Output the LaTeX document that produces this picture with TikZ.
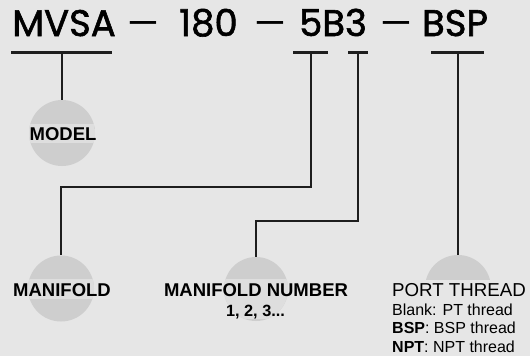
\documentclass[tikz,border=0pt]{standalone}
\usepackage{fontspec}
\setmainfont{Liberation Sans}
\newfontfamily\titlefont{Poppins}[FakeBold=1.6]
\newfontfamily\dashfont{Poppins}
\definecolor{bgc}{HTML}{E6E6E6}
\definecolor{circc}{HTML}{CECECE}
\definecolor{bandc}{HTML}{DEDEDE}
\definecolor{inkc}{HTML}{1E1E1E}
\tikzset{
  ttl/.style={anchor=base, inner sep=0pt, font=\titlefont\fontsize{37}{40}\selectfont, text=black},
  dsh/.style={anchor=base, inner sep=0pt, font=\dashfont\fontsize{37}{40}\selectfont, text=black},
  bar/.style={draw=inkc, line width=3pt},
  conn/.style={draw=inkc, line width=1.8pt},
  ball/.style={circle, fill=circc, minimum size=66pt, inner sep=0pt},
  lbl/.style={anchor=base, inner sep=0pt, font=\bfseries\fontsize{18.5}{20}\selectfont, text=black},
  lblr/.style={anchor=base west, inner sep=0pt, font=\fontsize{18.7}{20}\selectfont, text=black},
  small/.style={anchor=base west, inner sep=0pt, font=\fontsize{16}{18}\selectfont, text=black},
}
\begin{document}
\begin{tikzpicture}[x=1pt,y=-1pt]
\useasboundingbox (0,0) rectangle (530,356);
\fill[bgc] (0,0) rectangle (530,356);
% title
\node[ttl] (tmvsa) at (64,36) {MVSA};
\node[dsh] (td1) at (143,36) {\scalebox{1.35}[1]{–}};
\node[ttl] (t180) at (208.5,36) {180};
\node[dsh] (td2) at (270.5,36) {\scalebox{1.35}[1]{–}};
\node[ttl] (t5b3) at (333,36) {5B3};
\node[dsh] (td3) at (396,36) {\scalebox{1.35}[1]{–}};
\node[ttl] (tbsp) at (455,36) {BSP};
% bars
\coordinate (bmL) at (11,52); \coordinate (bmR) at (112,52); \coordinate (bm) at (62,52);
\coordinate (b5L) at (293,52); \coordinate (b5R) at (328,52); \coordinate (b5) at (311,52);
\coordinate (b3L) at (348,52); \coordinate (b3R) at (368,52); \coordinate (b3) at (358,52);
\coordinate (bpL) at (431,52); \coordinate (bpR) at (484,52); \coordinate (bp) at (458,52);
\draw[bar] (bmL) -- (bmR);
\draw[bar] (b5L) -- (b5R);
\draw[bar] (b3L) -- (b3R);
\draw[bar] (bpL) -- (bpR);
% balls
\node[ball, path picture={\fill[bandc] ([yshift=-10pt]path picture bounding box.west) rectangle ([yshift=9pt]path picture bounding box.east);}] (cmodel) at (62,133) {};
\node[ball, path picture={\fill[bandc] ([yshift=-10pt]path picture bounding box.west) rectangle ([yshift=10pt]path picture bounding box.east);}] (cman) at (61,288.5) {};
\node[ball, minimum size=64pt, path picture={\fill[bandc] ([yshift=-30pt]path picture bounding box.west) rectangle ([yshift=10pt]path picture bounding box.east);}] (cnum) at (256,289) {};
\begin{scope}
\clip (420,250) rectangle (500,279);
\node[ball] (cport) at (458,288) {};
\end{scope}
% connectors
\draw[conn] (bm) -- (cmodel.north);
\draw[conn] (b5) -- ++(0,135) -| (cman.north);
\draw[conn] (b3) -- ++(0,169) -| (cnum.north);
\draw[conn] (bp) -- (cport.north);
% labels
\node[lbl] (lmodel) at (63,140) {MODEL};
\node[lbl] (lman) at (62,296) {MANIFOLD};
\node[lbl] (lnum) at (256,296) {MANIFOLD NUMBER};
\node[lbl, font=\bfseries\fontsize{16.3}{18}\selectfont] (lnum2) at (255.5,316) {1, 2, 3...};
\node[lblr] (lport) at (392,296) {PORT THREAD};
\node[small] (lp1) at (392,315) {Blank: PT thread};
\node[small] (lp2) at (392,333.5) {\textbf{BSP}: BSP thread};
\node[small] (lp3) at (392,352) {\textbf{NPT}: NPT thread};
\end{tikzpicture}
\end{document}
